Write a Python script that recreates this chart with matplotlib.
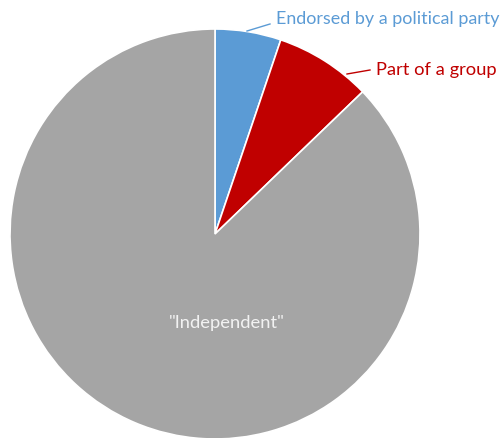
import matplotlib
matplotlib.use("Agg")
import matplotlib.pyplot as plt

categories = ["Endorsed by a political party", "Part of a group", "\"Independent\""]
values = [5.2, 7.6, 87.2]
colors = ["#5B9BD5", "#C00000", "#A5A5A5"]
label_colors = ["#5B9BD5", "#C00000", "#F2F2F2"]

W, H = 504, 439
fig = plt.figure(figsize=(W / 100, H / 100), dpi=100)
cx, cy, r = 215, 235, 205  # pixel geometry of pie
ax = fig.add_axes([(cx - r) / W, (H - cy - r) / H, 2 * r / W, 2 * r / H])
ax.pie(values, colors=colors, startangle=90, counterclock=False, radius=1,
       wedgeprops=dict(edgecolor="white", linewidth=1.2))
ax.set_xlim(-1, 1)
ax.set_ylim(-1, 1)
ax.set_aspect("auto")
ax.axis("off")

def d(px, py):
    return ((px - cx) / r, (cy - py) / r)

font = "Lato"
# leader lines and outside labels
(x0, y0), (x1, y1) = d(247, 32), d(270, 25)
ax.plot([x0, x1], [y0, y1], color=colors[0], lw=1, clip_on=False)
tx, ty = d(276, 19)
ax.text(tx, ty, categories[0], color=label_colors[0], fontsize=12.9, family=font,
        ha="left", va="center", clip_on=False)

(x0, y0), (x1, y1) = d(347, 75), d(370, 71)
ax.plot([x0, x1], [y0, y1], color=colors[1], lw=1, clip_on=False)
tx, ty = d(376, 70)
ax.text(tx, ty, categories[1], color=label_colors[1], fontsize=13.2, family=font,
        ha="left", va="center", clip_on=False)

tx, ty = d(227, 323)
ax.text(tx, ty, categories[2], color=label_colors[2], fontsize=13.2, family=font,
        ha="center", va="center")

fig.savefig("out.png", dpi=100)
